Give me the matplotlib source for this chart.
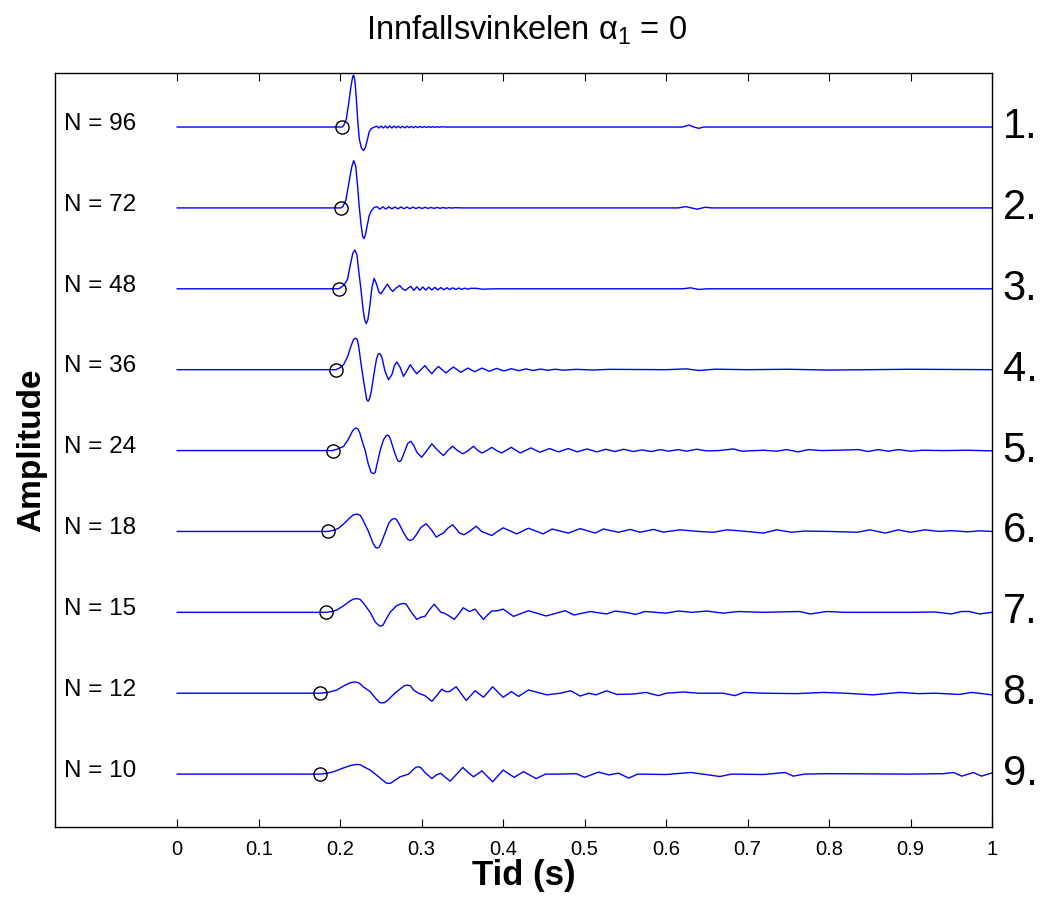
#seismic trace comparison for different N
import matplotlib.pyplot as plt
import numpy as np

plt.rcParams['font.family'] = ['Liberation Sans', 'DejaVu Sans']
plt.rcParams['mathtext.fontset'] = 'custom'
plt.rcParams['mathtext.rm'] = 'Liberation Sans'
plt.rcParams['mathtext.default'] = 'regular'

#labels for each trace (top to bottom)
n_labels = ['N = 96', 'N = 72', 'N = 48', 'N = 36', 'N = 24', 'N = 18', 'N = 15', 'N = 12', 'N = 10']
row_labels = ['1.', '2.', '3.', '4.', '5.', '6.', '7.', '8.', '9.']

#arrival time (circle) for each trace
arrival = [0.2025, 0.201, 0.198, 0.1947, 0.1906, 0.185, 0.1828, 0.1755, 0.1755]

#traces: time (s) and amplitude (in units of trace spacing)
t_n96 = [0, 0.2025, 0.2045, 0.2075, 0.2105, 0.2135, 0.2155, 0.2165, 0.218, 0.2198, 0.2217, 0.2235,
         0.226, 0.2286, 0.231, 0.2335, 0.2356, 0.238, 0.241, 0.245,
         0.2475, 0.250, 0.2528, 0.2555, 0.258, 0.2607, 0.2634, 0.266, 0.2687, 0.2713, 0.274, 0.2766,
         0.2793, 0.282, 0.2846, 0.2873, 0.29, 0.2926, 0.2953, 0.298, 0.3006, 0.3033, 0.306, 0.3086,
         0.3113, 0.314, 0.3166, 0.3193, 0.322, 0.3246, 0.33, 0.62, 0.628, 0.634, 0.640, 0.646, 1.0]
a_n96 = [0, 0, 0.025, 0.1, 0.3, 0.52, 0.63, 0.64, 0.58, 0.35, 0.05, -0.15,
         -0.26, -0.29, -0.25, -0.15, -0.06, -0.02, -0.005, 0.01,
         -0.012, 0.012, -0.012, 0.012, -0.012, 0.012, -0.012, 0.012, -0.01, 0.01, -0.01, 0.01,
         -0.01, 0.01, -0.008, 0.008, -0.008, 0.008, -0.008, 0.008, -0.006, 0.006, -0.006, 0.006,
         -0.005, 0.005, -0.004, 0.004, -0.003, 0.003, 0, 0, 0.025, 0, -0.016, 0, 0]

t_n72 = [0, 0.201, 0.2035, 0.207, 0.2105, 0.214, 0.2165, 0.219, 0.2215, 0.2235, 0.2255, 0.2275,
         0.2292, 0.231, 0.2335, 0.2355, 0.238, 0.2415, 0.245,
         0.2487, 0.2524, 0.256, 0.2597, 0.2634, 0.2671, 0.2708, 0.2745, 0.2782, 0.2819, 0.2856, 0.2893,
         0.293, 0.2967, 0.3004, 0.3041, 0.3078, 0.3115, 0.3152, 0.3189, 0.3226, 0.3263, 0.33, 0.3337,
         0.3374, 0.3411, 0.35, 0.615, 0.624, 0.638, 0.648, 0.656, 1.0]
a_n72 = [0, 0, 0.02, 0.1, 0.3, 0.5, 0.585, 0.52, 0.25, 0, -0.2, -0.35,
         -0.38, -0.33, -0.2, -0.1, -0.04, 0.005, 0.016,
         -0.016, 0.014, -0.014, 0.014, -0.012, 0.012, -0.012, 0.012, -0.01, 0.01, -0.01, 0.01,
         -0.008, 0.008, -0.008, 0.008, -0.006, 0.006, -0.006, 0.006, -0.005, 0.005, -0.004, 0.004,
         -0.003, 0.003, 0, 0, 0.016, -0.016, 0.008, 0, 0]

t_n48 = [0, 0.198, 0.2015, 0.205, 0.209, 0.2125, 0.2155, 0.218, 0.2205, 0.223, 0.2254, 0.228,
         0.2302, 0.232, 0.234, 0.2365, 0.239, 0.2417, 0.2445, 0.2475, 0.25, 0.254, 0.258, 0.2615,
         0.2646, 0.2685, 0.273, 0.2765, 0.28, 0.2835, 0.2867,
         0.2904, 0.294, 0.2977, 0.3014, 0.305, 0.3088, 0.3125, 0.316, 0.3198, 0.3235, 0.327, 0.331,
         0.3345, 0.338, 0.342, 0.3455, 0.349, 0.353, 0.3565, 0.36, 0.3675, 0.375, 0.39,
         0.62, 0.63, 0.64, 0.65, 1.0]
a_n48 = [0, 0, 0.02, 0.05, 0.12, 0.3, 0.44, 0.48, 0.42, 0.2, 0, -0.25,
         -0.39, -0.43, -0.38, -0.2, 0.02, 0.13, 0.06, -0.04, -0.062, 0, 0.058, 0,
         -0.033, 0.01, 0.04, 0, -0.02, 0.01, 0.03,
         -0.02, 0.025, -0.018, 0.022, -0.016, 0.02, -0.015, 0.018, -0.013, 0.015, -0.012, 0.013,
         -0.01, 0.012, -0.008, 0.01, -0.008, 0.008, -0.006, 0.006, 0.005, -0.005, 0,
         0, 0.012, -0.008, 0, 0]

t_n36 = [0, 0.1947, 0.199, 0.204, 0.209, 0.2135, 0.2165, 0.219, 0.221, 0.2225, 0.2266, 0.2305,
         0.2325, 0.2343, 0.236, 0.238, 0.2415, 0.2445, 0.2465, 0.248, 0.2495, 0.2515, 0.255, 0.2593,
         0.2635, 0.2665, 0.2695, 0.2735, 0.2777, 0.282, 0.286, 0.29, 0.294, 0.299, 0.304, 0.308,
         0.3125, 0.3165, 0.3206, 0.325, 0.33, 0.3345, 0.339, 0.3435, 0.348, 0.3567, 0.365, 0.374,
         0.383, 0.392, 0.401, 0.41, 0.419, 0.428, 0.437, 0.446, 0.455, 0.464, 0.473, 0.49,
         0.51, 0.53, 0.6, 0.625, 0.64, 0.66, 0.7, 0.75, 0.8, 0.9, 1.0]
a_n36 = [0, 0, 0.02, 0.06, 0.16, 0.3, 0.375, 0.39, 0.37, 0.3, 0, -0.25,
         -0.37, -0.39, -0.36, -0.28, -0.05, 0.13, 0.19, 0.2, 0.19, 0.14, -0.02, -0.124,
         -0.06, 0.05, 0.095, 0.03, -0.083, -0.01, 0.062, 0, -0.05, 0, 0.05, 0,
         -0.05, 0, 0.04, 0, -0.04, 0, 0.033, 0, -0.033, 0.02, -0.025, 0.02,
         -0.02, 0.016, -0.016, 0.012, -0.012, 0.01, -0.01, 0.008, -0.008, 0.006, -0.006, 0.004,
         -0.004, 0.004, 0, 0.01, -0.01, 0.006, 0, 0.005, -0.005, 0.005, 0]

t_n24 = [0, 0.1906, 0.197, 0.204, 0.21, 0.215, 0.2175, 0.2196, 0.2218, 0.224, 0.2275, 0.2307,
         0.234, 0.2375, 0.239, 0.241, 0.243, 0.2445, 0.249, 0.253, 0.256, 0.258, 0.26, 0.262,
         0.266, 0.2695, 0.271, 0.2728, 0.2745, 0.2765, 0.2795, 0.283, 0.2867, 0.2905, 0.294, 0.3,
         0.3063, 0.3125, 0.32, 0.3267, 0.332, 0.338, 0.344, 0.3505, 0.357, 0.3636, 0.369, 0.374,
         0.38, 0.386, 0.392, 0.398, 0.41, 0.421, 0.434, 0.445, 0.457, 0.468, 0.48, 0.491,
         0.503, 0.515, 0.526, 0.537, 0.548, 0.56, 0.57, 0.582, 0.593, 0.603, 0.615, 0.625,
         0.6375, 0.65, 0.665, 0.6826, 0.693, 0.71, 0.72, 0.7357, 0.748, 0.762, 0.7746, 0.79,
         0.81, 0.836, 0.848, 0.86, 0.873, 0.885, 0.9, 0.915, 0.94, 0.97, 1.0]
a_n24 = [0, 0, 0.02, 0.05, 0.14, 0.24, 0.27, 0.28, 0.265, 0.22, 0.1, 0,
         -0.15, -0.26, -0.278, -0.285, -0.27, -0.2, 0, 0.13, 0.18, 0.19, 0.18, 0.13,
         0, -0.1, -0.13, -0.136, -0.125, -0.08, 0, 0.09, 0.115, 0.06, -0.02, -0.083,
         0, 0.083, 0, -0.062, 0, 0.053, 0, -0.04, 0, 0.053, 0, -0.03,
         0, 0.04, 0, -0.03, 0.04, -0.03, 0.033, -0.02, 0.025, -0.016, 0.025, -0.016,
         0.02, -0.016, 0.016, -0.012, 0.016, -0.012, 0.008, -0.012, 0.012, -0.008, 0.012, -0.008,
         0.016, -0.004, 0, 0.02, -0.008, 0, 0.004, -0.008, 0.012, -0.016, 0.012, 0,
         0.004, 0.012, -0.012, 0.012, -0.008, 0.012, -0.008, 0.004, 0, 0.004, -0.004]

t_n18 = [0, 0.185, 0.192, 0.198, 0.205, 0.212, 0.216, 0.2205, 0.2245, 0.227, 0.2347, 0.2405,
         0.2435, 0.2458, 0.248, 0.2505, 0.255, 0.26, 0.2635, 0.2663, 0.269, 0.272, 0.278, 0.283,
         0.286, 0.289, 0.2935, 0.299, 0.3055, 0.312, 0.318, 0.3225, 0.3267, 0.332, 0.338, 0.3425,
         0.3464, 0.352, 0.3585, 0.367, 0.3735, 0.386, 0.393, 0.4, 0.4166, 0.431, 0.449, 0.46,
         0.48, 0.4945, 0.513, 0.523, 0.5415, 0.556, 0.568, 0.5845, 0.5967, 0.617, 0.64, 0.658,
         0.6745, 0.69, 0.7194, 0.7357, 0.754, 0.77, 0.8, 0.835, 0.85, 0.869, 0.885, 0.9,
         0.918, 0.935, 0.95, 0.97, 0.985, 1.0]
a_n18 = [0, 0, 0.015, 0.04, 0.1, 0.17, 0.205, 0.215, 0.2, 0.16, 0, -0.15,
         -0.198, -0.205, -0.19, -0.14, -0.02, 0.11, 0.15, 0.16, 0.15, 0.1, -0.02, -0.1,
         -0.11, -0.1, -0.04, 0.05, 0.095, 0.02, -0.07, -0.04, -0.02, 0.04, 0.083, 0.03,
         -0.02, -0.04, 0, 0.065, 0, -0.05, 0, 0.045, -0.03, 0.04, -0.03, 0.03,
         -0.02, 0.035, -0.02, 0.03, -0.01, 0.025, -0.01, 0.025, -0.008, 0.02, 0, -0.01,
         0.02, 0.008, -0.02, 0.02, -0.01, 0.005, 0, -0.01, 0.02, -0.02, 0.02, -0.01,
         0.02, 0, 0.01, -0.005, 0.008, 0]

t_n15 = [0, 0.1828, 0.19, 0.196, 0.204, 0.212, 0.216, 0.2205, 0.2245, 0.228, 0.2368, 0.243,
         0.2475, 0.25, 0.2525, 0.2555, 0.2613, 0.269, 0.2745, 0.2777, 0.281, 0.286, 0.294, 0.299,
         0.304, 0.3095, 0.3153, 0.3195, 0.3235, 0.3275, 0.333, 0.34, 0.3455, 0.351, 0.3585, 0.3656,
         0.371, 0.376, 0.381, 0.386, 0.393, 0.4, 0.4127, 0.431, 0.4528, 0.476, 0.487, 0.5067,
         0.527, 0.5374, 0.55, 0.563, 0.574, 0.6, 0.615, 0.632, 0.65, 0.67, 0.6887, 0.72,
         0.74, 0.764, 0.777, 0.797, 0.82, 0.9, 0.93, 0.95, 0.9626, 0.972, 0.985, 1.0]
a_n15 = [0, 0, 0.01, 0.03, 0.08, 0.14, 0.163, 0.17, 0.16, 0.12, 0, -0.12,
         -0.163, -0.17, -0.16, -0.1, 0, 0.08, 0.105, 0.11, 0.1, 0.02, -0.087, -0.06,
         -0.05, 0.03, 0.1, 0.05, 0, -0.01, -0.04, -0.087, -0.02, 0.057, 0.01, 0.04,
         -0.03, -0.087, -0.03, 0.016, 0.02, 0.04, -0.05, 0.02, -0.045, 0.02, -0.033, 0.01,
         -0.02, 0.016, 0, -0.025, 0.01, -0.01, 0.016, 0, 0.016, -0.01, 0.01, 0,
         0.005, 0.01, -0.02, 0.01, 0, 0, 0.004, -0.02, 0.01, 0.01, -0.02, 0]

t_n12 = [0, 0.1755, 0.185, 0.196, 0.206, 0.2125, 0.2184, 0.2235, 0.228, 0.2368, 0.244, 0.2485,
         0.251, 0.2545, 0.258, 0.267, 0.279, 0.2826, 0.2865, 0.29, 0.296, 0.304, 0.3125, 0.3185,
         0.3246, 0.3295, 0.334, 0.3423, 0.3546, 0.3656, 0.376, 0.387, 0.4, 0.41, 0.419, 0.431,
         0.4536, 0.47, 0.483, 0.4945, 0.505, 0.514, 0.527, 0.5395, 0.56, 0.575, 0.5905, 0.6,
         0.621, 0.64, 0.67, 0.6846, 0.695, 0.72, 0.76, 0.793, 0.82, 0.854, 0.887, 0.91,
         0.93, 0.96, 0.975, 1.0]
a_n12 = [0, 0, 0.01, 0.04, 0.1, 0.13, 0.14, 0.125, 0.08, 0.02, -0.07, -0.115,
         -0.12, -0.115, -0.09, 0, 0.095, 0.1, 0.09, 0.04, 0, -0.03, -0.1, -0.03,
         0.05, 0.02, 0.02, 0.08, -0.09, 0.03, -0.05, 0.08, -0.05, 0.02, -0.04, 0.04,
         -0.02, 0, 0.03, -0.035, 0, -0.02, 0.03, -0.015, -0.01, 0.01, -0.03, 0,
         0.015, 0, 0, -0.03, 0.01, 0, -0.005, 0.01, 0, -0.02, 0.01, -0.005,
         0, -0.015, 0.01, -0.02]

t_n10 = [0, 0.1755, 0.184, 0.192, 0.205, 0.214, 0.2205, 0.225, 0.229, 0.2368, 0.248, 0.2565,
         0.2593, 0.2625, 0.2665, 0.2736, 0.284, 0.29, 0.293, 0.296, 0.299, 0.304, 0.3125, 0.318,
         0.3234, 0.329, 0.335, 0.343, 0.3505, 0.357, 0.3636, 0.374, 0.387, 0.4, 0.4135, 0.425,
         0.4405, 0.452, 0.47, 0.49, 0.5, 0.517, 0.53, 0.5415, 0.554, 0.565, 0.6, 0.63,
         0.645, 0.666, 0.68, 0.72, 0.746, 0.756, 0.77, 0.8, 0.9, 0.94, 0.9526, 0.963,
         0.977, 0.987, 1.0]
a_n10 = [0, 0, 0.01, 0.03, 0.08, 0.11, 0.12, 0.115, 0.09, 0.05, -0.04, -0.11,
         -0.115, -0.11, -0.08, -0.033, 0, 0.06, 0.085, 0.09, 0.08, 0.02, -0.055, -0.01,
         0.01, -0.04, -0.087, 0, 0.083, 0.02, -0.033, 0.04, -0.095, 0.05, -0.04, 0.03,
         -0.055, 0, 0, 0.005, -0.04, 0.025, -0.01, 0.012, -0.05, 0, -0.005, 0.02,
         0, -0.03, 0, -0.005, 0.02, -0.025, 0, 0.005, 0, 0.005, 0.02, -0.025,
         0.02, -0.025, 0.015]

times = [t_n96, t_n72, t_n48, t_n36, t_n24, t_n18, t_n15, t_n12, t_n10]
amps = [a_n96, a_n72, a_n48, a_n36, a_n24, a_n18, a_n15, a_n12, a_n10]

xticks = [0, 0.1, 0.2, 0.3, 0.4, 0.5, 0.6, 0.7, 0.8, 0.9, 1.0]
xtick_labels = ['0', '0.1', '0.2', '0.3', '0.4', '0.5', '0.6', '0.7', '0.8', '0.9', '1']

fig = plt.figure(figsize=(10.52, 8.99), dpi=100)
ax = fig.add_axes([0.0523, 0.080, 0.8907, 0.8388])

n_traces = len(times)
for i in range(n_traces):
    offset = n_traces - i  #top trace highest
    t = np.array(times[i])
    a = np.array(amps[i])
    ax.plot(t, a + offset, color='#0000ff', lw=1.0, solid_joinstyle='round')

    #circle where the arrival is picked (on the trace)
    a_arr = np.interp(arrival[i], t, a)
    ax.plot(arrival[i], a_arr + offset, marker='o', ms=9.5, mfc='none', mec='black', mew=1.0)

    ax.text(-0.139, offset + 0.04, n_labels[i], fontsize=17.5, ha='left', va='center')
    ax.text(1.013, offset, row_labels[i], fontsize=30, ha='left', va='center', clip_on=False)

ax.set_xlim(-0.15, 1.0)
ax.set_ylim(0.345, 9.668)

ax.set_xticks(xticks)
ax.set_xticklabels(xtick_labels)
ax.set_yticks([])
ax.tick_params(axis='x', direction='in', top=True, length=6, width=0.8, labelsize=14.5, pad=9)
for sp in ax.spines.values():
    sp.set_linewidth(1.0)

ax.set_xlabel('Tid (s)', fontsize=25, fontweight='bold', labelpad=0)
ax.set_ylabel('Amplitude', fontsize=24, fontweight='bold', labelpad=6)

fig.text(526 / 1052, 1 - 30 / 899, r'Innfallsvinkelen α$_1$ = 0', fontsize=23.5, ha='center', va='center')

fig.savefig('out.png', dpi=100)
